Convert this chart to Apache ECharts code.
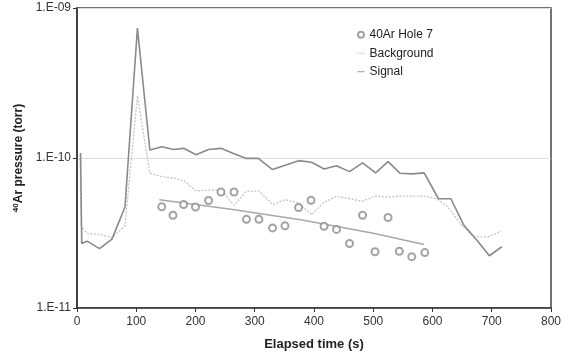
<!DOCTYPE html>
<html>
<head>
<meta charset="utf-8">
<script src="https://cdn.jsdelivr.net/npm/echarts@6/dist/echarts.min.js"></script>
<style>html,body{margin:0;padding:0;background:#fff}#c{width:564px;height:356px}</style>
</head>
<body>
<div id="c"></div>
<script>
// ---- data ----
const signalT = [6, 8, 17, 38, 59, 81, 102, 123, 143, 163, 180, 201, 222, 243, 264, 285, 306, 330, 354, 374, 396, 417, 438, 460, 482, 504, 525, 545, 565, 586, 610, 631, 653, 675, 696, 717];
const signalV = [1.08e-10, 2.69e-11, 2.79e-11, 2.49e-11, 2.88e-11, 4.71e-11, 7.34e-10, 1.13e-10, 1.19e-10, 1.14e-10, 1.16e-10, 1.05e-10, 1.14e-10, 1.16e-10, 1.07e-10, 9.95e-11, 9.95e-11, 8.37e-11, 9.03e-11, 9.6e-11, 9.37e-11, 8.45e-11, 8.89e-11, 8.11e-11, 9.27e-11, 7.96e-11, 9.45e-11, 7.92e-11, 7.84e-11, 7.96e-11, 5.35e-11, 5.35e-11, 3.56e-11, 2.83e-11, 2.23e-11, 2.56e-11];

const bgT = [5, 7, 17, 38, 59, 81, 102, 123, 143, 163, 180, 201, 222, 244, 265, 286, 308, 330, 351, 374, 396, 416, 438, 461, 481, 503, 525, 546, 567, 587, 607, 626, 648, 670, 694, 716];
const bgV = [1.05e-10, 3.53e-11, 3.14e-11, 3.10e-11, 2.94e-11, 3.53e-11, 2.59e-10, 7.92e-11, 7.52e-11, 7.34e-11, 7.08e-11, 6.02e-11, 6.13e-11, 6.07e-11, 4.83e-11, 6.01e-11, 6.01e-11, 4.88e-11, 5.27e-11, 5.01e-11, 4.19e-11, 5.04e-11, 5.54e-11, 5.35e-11, 5.14e-11, 5.57e-11, 5.49e-11, 5.57e-11, 5.57e-11, 5.57e-11, 5.35e-11, 4.71e-11, 3.60e-11, 2.98e-11, 2.98e-11, 3.25e-11];

const holeT = [143, 162, 180, 200, 222, 243, 265, 286, 307, 330, 351, 374, 395, 417, 438, 460, 482, 503, 525, 544, 565, 587];
const holeV = [4.73e-11, 4.15e-11, 4.90e-11, 4.71e-11, 5.21e-11, 5.93e-11, 5.93e-11, 3.90e-11, 3.90e-11, 3.42e-11, 3.53e-11, 4.68e-11, 5.23e-11, 3.51e-11, 3.34e-11, 2.69e-11, 4.15e-11, 2.37e-11, 4.01e-11, 2.39e-11, 2.20e-11, 2.34e-11];

const trendT = [139, 260, 380, 500, 586];
const trendV = [5.27e-11, 4.56e-11, 3.86e-11, 3.15e-11, 2.65e-11];

const xTicks = [0, 100, 200, 300, 400, 500, 600, 700, 800];
const yTickLabels = {'-11': '1.E-11', '-10': '1.E-10', '-9': '1.E-09'};
const seriesNames = ['40Ar Hole 7', 'Background', 'Signal'];

const zip = (a, b) => a.map((t, i) => [t, b[i]]);
const FONT = '"Liberation Sans", Arial, sans-serif';

const chart = echarts.init(document.getElementById('c'), null, {renderer: 'canvas'});
chart.setOption({
  animation: false,
  backgroundColor: '#fff',
  textStyle: {fontFamily: FONT},
  grid: {left: 77, right: 13, top: 8, bottom: 45, show: true, borderColor: '#444', borderWidth: 1.5, containLabel: false},
  legend: {
    orient: 'vertical', left: 357, top: 28, padding: 0,
    itemWidth: 7, itemHeight: 6, itemGap: 5,
    textStyle: {fontFamily: FONT, fontSize: 12, color: '#222', lineHeight: 13.5},
    data: [
      {name: seriesNames[0], icon: 'emptyCircle', itemStyle: {color: '#8c8c8c', borderColor: '#8c8c8c', borderWidth: 1}},
      {name: seriesNames[1], icon: 'path://M0,0H2V1H0Z M3,0H5V1H3Z M6,0H8V1H6Z', itemStyle: {color: '#c4c4c4'}},
      {name: seriesNames[2], icon: 'path://M0,0H8V1H0Z', itemStyle: {color: '#8a8a8a'}}
    ]
  },
  xAxis: {
    type: 'value', min: xTicks[0], max: xTicks[xTicks.length - 1], interval: 100,
    name: 'Elapsed time (s)', nameLocation: 'middle', nameGap: 30,
    nameTextStyle: {fontFamily: FONT, fontSize: 13, fontWeight: 'bold', color: '#222'},
    axisLine: {lineStyle: {color: '#333', width: 1.5}},
    axisTick: {show: true, inside: false, length: 4, lineStyle: {color: '#333'}},
    axisLabel: {fontFamily: FONT, fontSize: 12, color: '#333', margin: 8},
    splitLine: {show: false}
  },
  yAxis: {
    type: 'log', logBase: 10, min: 1e-11, max: 1e-9,
    name: '{sup|40}{b|Ar pressure (torr)}', nameLocation: 'middle', nameGap: 48, nameRotate: 90,
    nameTextStyle: {rich: {
      sup: {fontFamily: FONT, fontSize: 8, fontWeight: 'bold', color: '#222', verticalAlign: 'top', padding: [0, 0, 5, 0]},
      b: {fontFamily: FONT, fontSize: 12, fontWeight: 'bold', color: '#222'}
    }},
    axisLine: {show: true, lineStyle: {color: '#333', width: 1.5}},
    axisTick: {show: true, inside: false, length: 4, lineStyle: {color: '#333'}},
    minorTick: {show: false},
    axisLabel: {fontFamily: FONT, fontSize: 12, color: '#333', margin: 6,
      formatter: v => yTickLabels[String(Math.round(Math.log10(v)))] || ''},
    splitLine: {show: true, lineStyle: {color: '#dedede', width: 1.2}}
  },
  series: [
    {
      name: 'Signal', type: 'line', data: zip(signalT, signalV), symbol: 'none', z: 3,
      lineStyle: {color: '#8a8a8a', width: 1.6}, itemStyle: {color: '#8a8a8a'}
    },
    {
      name: 'Background', type: 'line', data: zip(bgT, bgV), symbol: 'none', z: 2,
      lineStyle: {color: '#c4c4c4', width: 1.3, type: [2, 1.5]}, itemStyle: {color: '#c4c4c4'}
    },
    {
      name: 'trend', type: 'line', data: zip(trendT, trendV), symbol: 'none', z: 2,
      lineStyle: {color: '#a8a8a8', width: 1.5}, itemStyle: {color: '#a8a8a8'}
    },
    {
      name: '40Ar Hole 7', type: 'scatter', data: zip(holeT, holeV), symbol: 'emptyCircle', symbolSize: 7, z: 4,
      itemStyle: {color: '#8c8c8c', borderColor: '#8c8c8c', borderWidth: 1.2}
    }
  ]
});
</script>
</body>
</html>
